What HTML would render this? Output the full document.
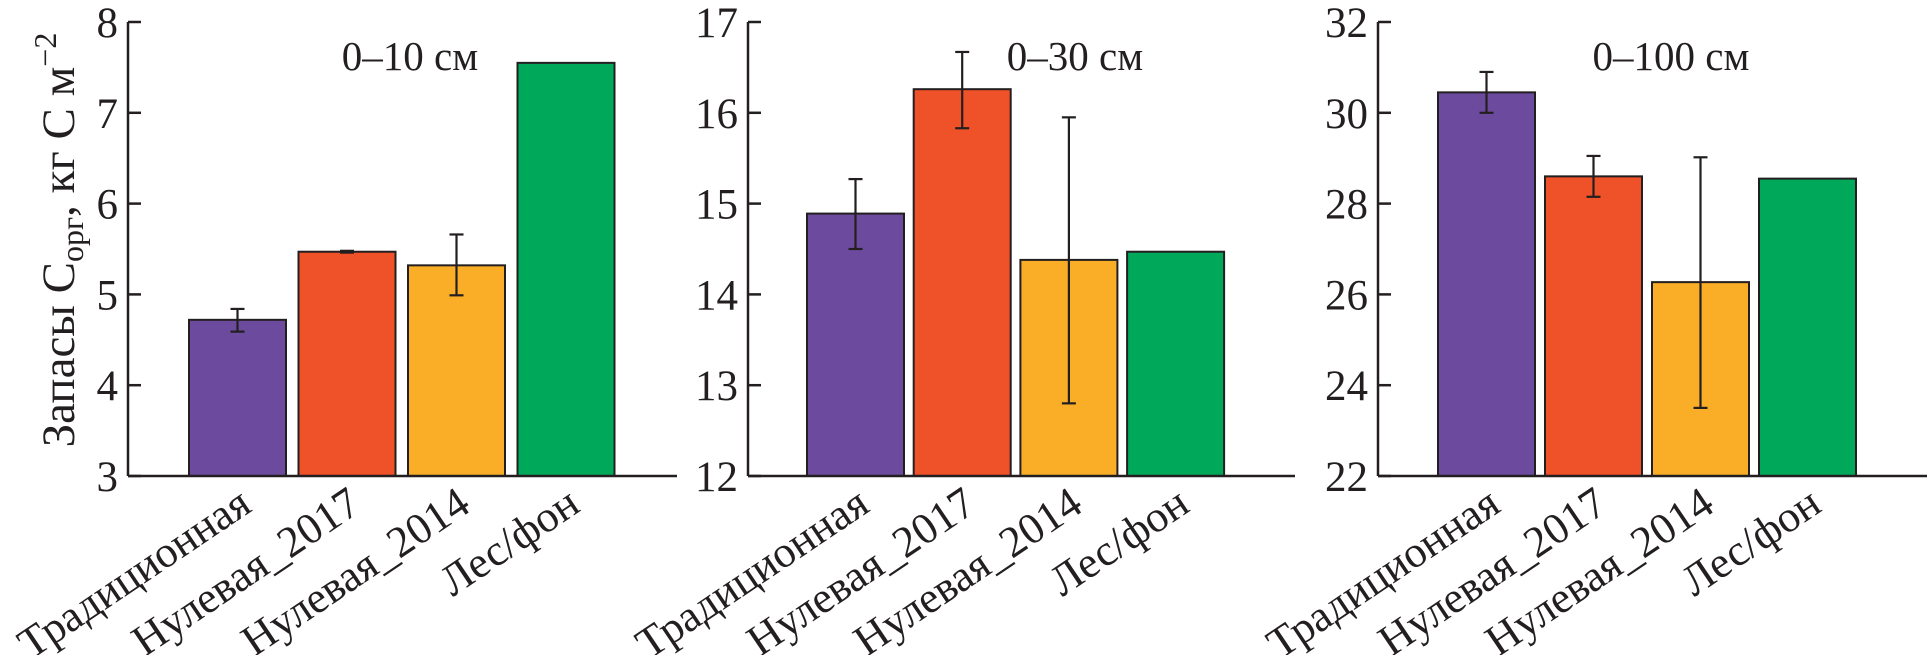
<!DOCTYPE html>
<html><head><meta charset="utf-8"><style>
html,body{margin:0;padding:0;background:#fff}
svg{display:block}
svg text{font-family:"Liberation Serif","DejaVu Serif","Times New Roman",serif;fill:#231f20}
</style></head><body>
<svg id="chart" width="1927" height="655" viewBox="0 0 1927 655" xmlns="http://www.w3.org/2000/svg" font-family="Liberation Serif, DejaVu Serif, serif">
<text transform="translate(74,240) rotate(-90)" text-anchor="middle" font-size="47" font-family="Liberation Serif, DejaVu Serif, serif">Запасы С<tspan font-size="32" dy="9">орг</tspan><tspan dy="-9">, кг С м</tspan><tspan font-size="32" dy="-18">−2</tspan></text>
</svg>
<script>
const categories = ["Традиционная","Нулевая_2017","Нулевая_2014","Лес/фон"];
const panelTitles = ["0–10 см","0–30 см","0–100 см"];
const values10 = [4.72, 5.47, 5.32, 7.55];
const errLow10 = [4.59, 5.46, 4.99, null];
const errHigh10 = [4.84, 5.48, 5.66, null];
const values30 = [14.89, 16.26, 14.38, 14.47];
const errLow30 = [14.5, 15.83, 12.8, null];
const errHigh30 = [15.27, 16.67, 15.95, null];
const values100 = [30.45, 28.6, 26.27, 28.55];
const errLow100 = [30.0, 28.15, 23.5, null];
const errHigh100 = [30.9, 29.05, 29.02, null];
const ticks10 = [3,4,5,6,7,8];
const ticks30 = [12,13,14,15,16,17];
const ticks100 = [22,24,26,28,30,32];
const colors = ["#6c4a9e","#ef5128","#faae27","#00a859"];

const NS="http://www.w3.org/2000/svg";
const svg=document.getElementById('chart');
const FF="Liberation Serif, DejaVu Serif, serif";
function mk(tag,attrs,parent){const e=document.createElementNS(NS,tag);for(const k in attrs)e.setAttribute(k,attrs[k]);if(tag==='text')e.setAttribute('font-family',FF);(parent||svg).appendChild(e);return e;}

const panels=[
 {ax:128,xEnd:677,bar0:189,step:109.5,bw:97,titleX:410,vals:values10,lo:errLow10,hi:errHigh10,ticks:ticks10,name:'0-10'},
 {ax:748,xEnd:1295,bar0:807,step:106.7,bw:97,titleX:1075,vals:values30,lo:errLow30,hi:errHigh30,ticks:ticks30,name:'0-30'},
 {ax:1378,xEnd:1927,bar0:1438,step:107,bw:97,titleX:1671,vals:values100,lo:errLow100,hi:errHigh100,ticks:ticks100,name:'0-100'}
];
const yTop=22,yBot=476;
panels.forEach((p,pi)=>{
 const g=mk('g',{});
 
 
 const tmin=p.ticks[0],tmax=p.ticks[p.ticks.length-1];
 const y=v=>yBot-(v-tmin)/(tmax-tmin)*(yBot-yTop);
 const x=i=>p.bar0+i*p.step;
 p.vals.forEach((v,i)=>{
  const r=mk('rect',{x:x(i),y:y(v),width:p.bw,height:yBot-y(v),fill:colors[i],stroke:'#231f20','stroke-width':2},g);
  
  
  if(p.lo[i]!=null){
   const cx=x(i)+p.bw/2;
   const eg=mk('g',{stroke:'#231f20','stroke-width':2.2},g);
   
   
   mk('line',{x1:cx,x2:cx,y1:y(p.lo[i]),y2:y(p.hi[i])},eg);
   mk('line',{x1:cx-7,x2:cx+7,y1:y(p.lo[i]),y2:y(p.lo[i])},eg);
   mk('line',{x1:cx-7,x2:cx+7,y1:y(p.hi[i]),y2:y(p.hi[i])},eg);
  }
  const t=mk('text',{'text-anchor':'end','font-size':44,transform:`translate(${x(i)+p.bw/2+16},${yBot+34}) rotate(-34)`},g);
  t.textContent=categories[i];
  
  
 });
 const axg=mk('g',{stroke:'#231f20','stroke-width':2.5,fill:'none'},g);
 
 
 mk('line',{x1:p.ax,x2:p.ax,y1:yTop,y2:yBot},axg);
 mk('line',{x1:p.ax,x2:p.xEnd,y1:yBot,y2:yBot},axg);
 p.ticks.forEach(tv=>{
  mk('line',{x1:p.ax,x2:p.ax+13,y1:y(tv),y2:y(tv)},axg);
  const t=mk('text',{x:p.ax-10,y:y(tv)+15,'text-anchor':'end','font-size':43},g);
  t.textContent=tv;
  
  
 });
 const tt=mk('text',{x:p.titleX,y:70,'text-anchor':'middle','font-size':41},g);
 tt.textContent=panelTitles[pi];
 
 
});
</script>
</body></html>
